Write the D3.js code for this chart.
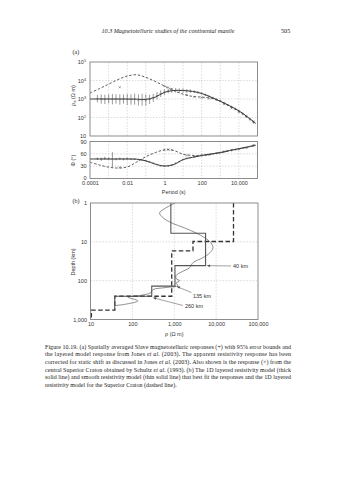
<!DOCTYPE html>
<html><head><meta charset="utf-8">
<script src="https://cdn.jsdelivr.net/npm/d3@7"></script>
<style>
html,body{margin:0;padding:0;background:#fff;}
svg{display:block;}
text{font-family:"Liberation Sans",Arial,sans-serif;fill:#333;}
.serif{font-family:"Liberation Serif","Times New Roman",serif;fill:#222;}
</style></head>
<body>
<svg id="c" width="338" height="480"></svg>
<script>
// ---------- DATA ----------
// Slave averaged MT responses (+) with 95% error bounds
const dataPeriods = [2.5e-4,4e-4,6.3e-4,1e-3,1.6e-3,2.5e-3,4e-3,6.3e-3,0.01,0.016,0.025,0.04,0.063,0.1,0.16,0.25,0.4,0.63,1,1.6,2.5,4,6.3,10,16,25,40,63,100,160,250,400,630,1000,1600,2500,4000,6300,10000,16000,25000,40000,63000];
const dataRho = [1050,1000,955,1020,980,1000,935,1000,955,935,980,890,910,870,955,1150,1510,1950,2340,2690,2880,2950,2880,2880,2750,2630,2510,2290,2000,1660,1380,1150,955,780,600,480,370,290,220,160,115,79,55];
const dataRhoErrDecades = [0.2,0.25,0.25,0.25,0.28,0.25,0.28,0.25,0.3,0.28,0.3,0.3,0.32,0.3,0.25,0.22,0.2,0.18,0.15,0.12,0.12,0.12,0.12,0.12,0.1,0.1,0.08,0.08,0.06,0.06,0.06,0.06,0.06,0.06,0.06,0.06,0.07,0.07,0.08,0.08,0.08,0.08,0.09];
const dataPhase = [48,47,49,48,46,47,48,47,48,47,47,46,45,43,40,37,34,31,30,31,33,37,41,46,49,51,53,55,56,57,58,60,61,63,65,67,68,70,72,74,75,78,80];
const dataPhaseErr = [3,4,4,3,18,3,3,3,3,2,2,2,2,2,2,2,2,2,2,2,2,2,2,2,2,2,2,2,2,2,2,2,2,2,2,2,2,2,2,2,2,2,3];
// Superior Craton response (x)
const supPeriods = [0.004,1,1.6,2.5,16,40,100,250,630,1600,4000,10000,25000,63000];
const supRho = [4300,5000,4200,3550,1660,1320,1200,1050,890,525,316,200,112,60];
const supPhase = [27,70,71,70,56,54,57,58,62,66,70,71,75,81];
// Model responses
const modelPeriods = [1e-4,3.2e-4,1e-3,3.2e-3,0.01,0.032,0.1,0.32,1,3.2,10,32,100,320,1000,3200,10000,32000,80000];
const slaveModelRho = [1000,1000,1000,1000,1000,980,955,1260,2290,2880,2880,2570,2000,1260,760,427,229,100,48];
const superiorModelRho = [2090,3630,6310,11200,17400,20400,14800,8910,5010,2820,1820,1380,1260,1100,760,417,219,95,46];
const slaveModelPhase = [47.5,47.5,47.5,47.5,47.5,47,43,35,30.5,34,46,51.5,56,59.5,63,68,72.5,77,81];
const superiorModelPhase = [39.5,33,27.5,25.5,28,40,53,63,69.5,68,59,56,55.5,59.5,63,68,72.5,77,81];
// Axis ticks
const periodTicks = [1e-4,1e-2,1,100,10000];
const periodTickLabels = ["0.0001","0.01","1","100","10,000"];
const rhoTicks = [10,100,1000,10000,100000];
const phaseTicks = [0,30,60,90];
const depthTicks = [1,10,100,1000];
const depthTickLabels = ["1","10","100","1,000"];
const resTicks = [10,100,1000,10000,100000];
const resTickLabels = ["10","100","1,000","10,000","100,000"];
// (b) layered models: layer tops (km) and resistivities (ohm m)
const slaveLayerTop = [1,6,41,138,252];
const slaveLayerBottom = 576;
const slaveLayerRho = [830,5600,1040,290,38];
const supLayerTop = [1,9.8,17,252,576];
const supLayerBottom = 1000;
const supLayerRho = [26000,2800,870,38,10.5];
// smooth model
const smoothRho = [1050,630,447,540,890,1780,3300,5400,7500,8400,7100,4800,2800,2350,1520,1100,1120,1350,1100,1230,600,310,275,150,78,135,66,38];
const smoothDepth = [1,1.34,1.8,2.4,3.3,4.4,5.9,7.9,10.6,14.3,19.1,25.7,34.4,46,59,74,89,100,116,134,151,170,204,242,264,331,407,437];
const annotations = [{label:"40 km",rho:5600,depth:41},{label:"135 km",rho:1040,depth:138},{label:"260 km",rho:290,depth:252}];

const captionLines = [
 [["Figure 10.19.  (a) Spatially averaged Slave magnetotelluric responses (+) with 95% error bounds and",0]],
 [["the layered model response from Jones ",0],["et al.",1],[" (2003). The apparent resistivity response has been",0]],
 [["corrected for static shift as discussed in Jones ",0],["et al.",1],[" (2003). Also shown is the response (×) from the",0]],
 [["central Superior Craton obtained by Schultz ",0],["et al.",1],[" (1993). (b) The 1D layered resistivity model (thick",0]],
 [["solid line) and smooth resistivity model (thin solid line) that best fit the responses and the 1D layered",0]],
 [["resistivity model for the Superior Craton (dashed line).",0]]
];

// ---------- DRAW ----------
const svg = d3.select("#c");
const FS = 5.5;
const gridCol = "#b8b8b8", frameCol = "#808080", lineCol = "#333";

// header
svg.append("text").attr("class","serif").attr("x",101.5).attr("y",33).attr("font-size",6.2)
  .attr("font-style","italic").attr("textLength",133).attr("lengthAdjust","spacingAndGlyphs")
  .text("10.3  Magnetotelluric studies of the continental mantle");
svg.append("text").attr("class","serif").attr("x",281).attr("y",33).attr("font-size",6.2).text("505");

// panel (a)
const L = 90, R = 257.5;
const xA = d3.scaleLog().domain([1e-4,1e5]).range([L,R]);
const yRho = d3.scaleLog().domain([10,1e5]).range([136,62]);
const yPhi = d3.scaleLinear().domain([0,90]).range([178.5,141.5]);
const decadesA = [1e-3,1e-2,1e-1,1,10,100,1000,1e4];

svg.append("text").attr("class","serif").attr("x",72.5).attr("y",54).attr("font-size",6).text("(a)");

function grid(xs, ys, xScale, yScale, x0, x1, y0, y1){
  const g = svg.append("g").attr("stroke",gridCol).attr("stroke-width",0.5).attr("stroke-dasharray","1.5,1.5");
  xs.forEach(v=>g.append("line").attr("x1",xScale(v)).attr("x2",xScale(v)).attr("y1",y0).attr("y2",y1));
  ys.forEach(v=>g.append("line").attr("y1",yScale(v)).attr("y2",yScale(v)).attr("x1",x0).attr("x2",x1));
}
grid(decadesA,[100,1000,10000],xA,yRho,L,R,62,136);
grid(decadesA,[30,60],xA,yPhi,L,R,141.5,178.5);

const lineRho = d3.line().x((d,i)=>xA(modelPeriods[i])).y(d=>yRho(d)).curve(d3.curveCatmullRom);
const linePhi = d3.line().x((d,i)=>xA(modelPeriods[i])).y(d=>yPhi(d)).curve(d3.curveCatmullRom);

const clipA = svg.append("clipPath").attr("id","clipA");
clipA.append("rect").attr("x",L).attr("y",62).attr("width",R-L).attr("height",74);
clipA.append("rect").attr("x",L).attr("y",141.5).attr("width",R-L).attr("height",37);
const gA = svg.append("g").attr("clip-path","url(#clipA)");

gA.append("path").attr("d",lineRho(superiorModelRho)).attr("fill","none").attr("stroke",lineCol).attr("stroke-width",0.8).attr("stroke-dasharray","2.5,1.8");
gA.append("path").attr("d",lineRho(slaveModelRho)).attr("fill","none").attr("stroke",lineCol).attr("stroke-width",1);
gA.append("path").attr("d",linePhi(superiorModelPhase)).attr("fill","none").attr("stroke",lineCol).attr("stroke-width",0.8).attr("stroke-dasharray","2.5,1.8");
gA.append("path").attr("d",linePhi(slaveModelPhase)).attr("fill","none").attr("stroke",lineCol).attr("stroke-width",1);

// error bars & + markers
const eb = gA.append("g").attr("stroke","#555").attr("stroke-width",0.6);
dataPeriods.forEach((p,i)=>{
  const x = xA(p), y = yRho(dataRho[i]);
  const f = Math.pow(10,dataRhoErrDecades[i]);
  eb.append("line").attr("x1",x).attr("x2",x).attr("y1",yRho(dataRho[i]*f)).attr("y2",yRho(dataRho[i]/f));
  eb.append("line").attr("x1",x-1.2).attr("x2",x+1.2).attr("y1",y).attr("y2",y);
  const yp = yPhi(dataPhase[i]);
  eb.append("line").attr("x1",x).attr("x2",x).attr("y1",yPhi(dataPhase[i]+dataPhaseErr[i])).attr("y2",yPhi(dataPhase[i]-dataPhaseErr[i]));
  eb.append("line").attr("x1",x-1.2).attr("x2",x+1.2).attr("y1",yp).attr("y2",yp);
});
const xm = gA.append("g").attr("stroke","#555").attr("stroke-width",0.5);
supPeriods.forEach((p,i)=>{
  const x = xA(p);
  [yRho(supRho[i]), yPhi(supPhase[i])].forEach(y=>{
    xm.append("line").attr("x1",x-1).attr("x2",x+1).attr("y1",y-1).attr("y2",y+1);
    xm.append("line").attr("x1",x-1).attr("x2",x+1).attr("y1",y+1).attr("y2",y-1);
  });
});

// frames
svg.append("rect").attr("x",L).attr("y",62).attr("width",R-L).attr("height",74).attr("fill","none").attr("stroke",frameCol).attr("stroke-width",0.9);
svg.append("rect").attr("x",L).attr("y",141.5).attr("width",R-L).attr("height",37).attr("fill","none").attr("stroke",frameCol).attr("stroke-width",0.9);

// axes (a)
const supDigits = {10:"",100:"2",1000:"3",10000:"4",100000:"5"};
const axRho = svg.append("g").attr("transform",`translate(${L},0)`)
  .call(d3.axisLeft(yRho).tickValues(rhoTicks).tickSize(0).tickPadding(4).tickFormat(()=>""));
axRho.select(".domain").remove();
axRho.selectAll(".tick text").each(function(d){
  const t = d3.select(this).attr("font-size",FS).attr("font-family",null).attr("fill","#333");
  t.append("tspan").text("10");
  if(supDigits[d]) t.append("tspan").attr("dy",-2).attr("font-size",3.8).text(supDigits[d]);
});
const axPhi = svg.append("g").attr("transform",`translate(${L},0)`)
  .call(d3.axisLeft(yPhi).tickValues(phaseTicks).tickSize(0).tickPadding(3.5));
axPhi.select(".domain").remove();
axPhi.selectAll(".tick text").attr("font-size",FS).attr("font-family",null).attr("fill","#333");
axPhi.selectAll(".tick").filter(d=>d===0).select("text").attr("dy","0.1em");
const axPer = svg.append("g").attr("transform","translate(0,178.5)")
  .call(d3.axisBottom(xA).tickValues(periodTicks).tickSize(0).tickPadding(3).tickFormat((d,i)=>periodTickLabels[i]));
axPer.select(".domain").remove();
axPer.selectAll(".tick text").attr("font-size",FS).attr("font-family",null).attr("fill","#333");

svg.append("text").attr("x",(L+R)/2).attr("y",193.5).attr("text-anchor","middle").attr("font-size",FS).text("Period (s)");
const rl = svg.append("text").attr("transform","translate(74.5,95.5) rotate(-90)").attr("text-anchor","middle").attr("font-size",FS);
rl.append("tspan").text("ρ");
rl.append("tspan").attr("dy",1.2).attr("font-size",4).text("a");
rl.append("tspan").attr("dy",-1.2).text(" (Ω m)");
svg.append("text").attr("transform","translate(74.5,160.5) rotate(-90)").attr("text-anchor","middle").attr("font-size",FS).text("Φ (°)");

// panel (b)
const LB = 90.5, RB = 258, TB = 203, BB = 319.5;
const xB = d3.scaleLog().domain([10,1e5]).range([LB,RB]);
const yB = d3.scaleLog().domain([1,1000]).range([TB,BB]);
svg.append("text").attr("class","serif").attr("x",72.5).attr("y",202.5).attr("font-size",6).text("(b)");
grid([100,1000,10000],[10,100],xB,yB,LB,RB,TB,BB);

const clipB = svg.append("clipPath").attr("id","clipB");
clipB.append("rect").attr("x",LB).attr("y",TB).attr("width",RB-LB).attr("height",BB-TB);
const gB = svg.append("g").attr("clip-path","url(#clipB)");

function layerPts(tops, bottom, rhos){
  const pts = [];
  tops.forEach((t,i)=>{
    const b = i<tops.length-1 ? tops[i+1] : bottom;
    pts.push([rhos[i],t]); pts.push([rhos[i],b]);
  });
  return pts;
}
const lineB = d3.line().x(d=>xB(d[0])).y(d=>yB(d[1]));
gB.append("path").attr("d",lineB(layerPts(supLayerTop,supLayerBottom,supLayerRho))).attr("fill","none")
  .attr("stroke","#333").attr("stroke-width",1.3).attr("stroke-dasharray","4.5,2.5");
gB.append("path").attr("d",lineB(layerPts(slaveLayerTop,slaveLayerBottom,slaveLayerRho))).attr("fill","none")
  .attr("stroke","#555").attr("stroke-width",1.1);
gB.append("path").attr("d",d3.line().x(d=>xB(d[0])).y(d=>yB(d[1])).curve(d3.curveCatmullRom)(smoothRho.map((r,i)=>[r,smoothDepth[i]])))
  .attr("fill","none").attr("stroke","#444").attr("stroke-width",0.6);

svg.append("rect").attr("x",LB).attr("y",TB).attr("width",RB-LB).attr("height",BB-TB).attr("fill","none").attr("stroke",frameCol).attr("stroke-width",0.9);

// annotations
const annOffsets = [{tx:233,ty:268,sx:231,sy:266,dx:1.5,dy:0},{tx:193,ty:297.5,sx:191.5,sy:292.5,dx:2,dy:0.5},{tx:185,ty:308,sx:183,sy:305.5,dx:1.5,dy:1.5}];
annotations.forEach((a,i)=>{
  const o = annOffsets[i];
  const ex = xB(a.rho)+o.dx, ey = yB(a.depth)+o.dy;
  svg.append("line").attr("x1",o.sx).attr("y1",o.sy).attr("x2",ex).attr("y2",ey).attr("stroke","#444").attr("stroke-width",0.5);
  const ang = Math.atan2(o.sy-ey,o.sx-ex);
  const hl = 3, hw = 1.2;
  const p1 = [ex+hl*Math.cos(ang)-hw*Math.sin(ang), ey+hl*Math.sin(ang)+hw*Math.cos(ang)];
  const p2 = [ex+hl*Math.cos(ang)+hw*Math.sin(ang), ey+hl*Math.sin(ang)-hw*Math.cos(ang)];
  svg.append("path").attr("d",`M${ex},${ey}L${p1[0]},${p1[1]}L${p2[0]},${p2[1]}Z`).attr("fill","#444");
  svg.append("text").attr("x",o.tx).attr("y",o.ty).attr("font-size",FS).text(a.label);
});

const axDep = svg.append("g").attr("transform",`translate(${LB},0)`)
  .call(d3.axisLeft(yB).tickValues(depthTicks).tickSize(0).tickPadding(3.5).tickFormat((d,i)=>depthTickLabels[i]));
axDep.select(".domain").remove();
axDep.selectAll(".tick text").attr("font-size",FS).attr("font-family",null).attr("fill","#333");
const axRes = svg.append("g").attr("transform",`translate(0,${BB})`)
  .call(d3.axisBottom(xB).tickValues(resTicks).tickSize(0).tickPadding(3).tickFormat((d,i)=>resTickLabels[i]));
axRes.select(".domain").remove();
axRes.selectAll(".tick text").attr("font-size",FS).attr("font-family",null).attr("fill","#333");
svg.append("text").attr("x",(LB+RB)/2).attr("y",336).attr("text-anchor","middle").attr("font-size",FS).text("ρ (Ω m)");
svg.append("text").attr("transform","translate(74.5,262) rotate(-90)").attr("text-anchor","middle").attr("font-size",FS).text("Depth (km)");

// caption
captionLines.forEach((parts,i)=>{
  const t = svg.append("text").attr("class","serif").attr("x",45).attr("y",348.5+i*7.7).attr("font-size",6);
  if(i<captionLines.length-1) t.attr("textLength",246).attr("lengthAdjust","spacing");
  parts.forEach(p=>{ const s=t.append("tspan").text(p[0]); if(p[1]) s.attr("font-style","italic"); });
});
</script>
</body></html>
